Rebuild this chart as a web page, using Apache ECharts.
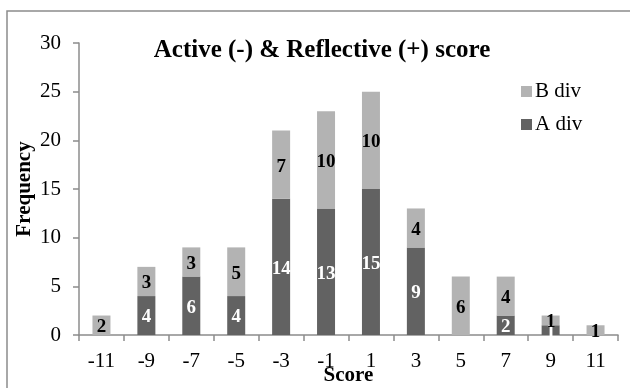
<!DOCTYPE html>
<html>
<head>
<meta charset="utf-8">
<script src="https://cdn.jsdelivr.net/npm/echarts@6/dist/echarts.min.js"></script>
<style>
  html, body { margin: 0; padding: 0; background: #fff; }
  #chart { width: 630px; height: 388px; }
</style>
</head>
<body>
<div id="chart"></div>
<script>
// Score bins and frequencies per division
const scores = ['-11', '-9', '-7', '-5', '-3', '-1', '1', '3', '5', '7', '9', '11'];
const aDiv = [0, 4, 6, 4, 14, 13, 15, 9, 0, 2, 1, 0];
const bDiv = [2, 3, 3, 5, 7, 10, 10, 4, 6, 4, 1, 1];
const yTicks = { min: 0, max: 30, interval: 5 };

const serif = '"Liberation Serif", "Times New Roman", serif';
const axisGrey = '#8c8c8c';

const hideZero = p => (p.value ? String(p.value) : '');

const chart = echarts.init(document.getElementById('chart'), null, { renderer: 'canvas' });
chart.setOption({
  animation: false,
  backgroundColor: '#ffffff',
  textStyle: { fontFamily: serif },
  graphic: [{
    type: 'rect',
    shape: { x: 7, y: 11, width: 700, height: 500 },
    style: { fill: 'none', stroke: axisGrey, lineWidth: 1.5 },
    silent: true
  }],
  title: {
    text: 'Active (-) & Reflective (+) score',
    left: 322, top: 38, textAlign: 'center', padding: 0,
    textStyle: { fontFamily: serif, fontWeight: 'bold', fontSize: 25, color: '#000' }
  },
  legend: {
    data: ['B div', 'A div'],
    orient: 'vertical',
    left: 521, top: 80, padding: 0,
    itemWidth: 11, itemHeight: 11, itemGap: 10,
    icon: 'rect',
    textStyle: { fontFamily: serif, fontSize: 21, color: '#000', lineHeight: 23, padding: [0, 0, 0, -2] }
  },
  grid: {
    left: 79, right: 12, top: 43, bottom: 53,
    containLabel: false, outerBoundsMode: 'none'
  },
  xAxis: {
    type: 'category',
    data: scores,
    name: 'Score',
    nameLocation: 'middle',
    nameGap: 30,
    nameMoveOverlap: false,
    nameTextStyle: { fontFamily: serif, fontWeight: 'bold', fontSize: 21, color: '#000' },
    axisLine: { lineStyle: { color: axisGrey, width: 1.5 } },
    axisTick: { show: true, length: 6, lineStyle: { color: axisGrey, width: 1.5 }, alignWithLabel: false },
    axisLabel: { fontFamily: serif, fontSize: 21, color: '#000', margin: 16 },
    splitLine: { show: false }
  },
  yAxis: {
    type: 'value',
    min: yTicks.min, max: yTicks.max, interval: yTicks.interval,
    name: 'Frequency',
    nameLocation: 'middle',
    nameGap: 44,
    nameMoveOverlap: false,
    nameTextStyle: { fontFamily: serif, fontWeight: 'bold', fontSize: 21, color: '#000' },
    axisLine: { show: true, lineStyle: { color: axisGrey, width: 1.5 } },
    axisTick: { show: true, length: 6, lineStyle: { color: axisGrey, width: 1.5 } },
    axisLabel: { fontFamily: serif, fontSize: 21, color: '#000', margin: 18 },
    splitLine: { show: false }
  },
  series: [
    {
      name: 'A div', type: 'bar', stack: 'total', data: aDiv,
      barWidth: 18,
      itemStyle: { color: '#626262' },
      label: {
        show: true, position: 'inside', formatter: hideZero,
        fontFamily: serif, fontSize: 19, fontWeight: 'bold', color: '#ffffff', offset: [0, 2]
      }
    },
    {
      name: 'B div', type: 'bar', stack: 'total', data: bDiv,
      barWidth: 18,
      itemStyle: { color: '#b3b3b3' },
      label: {
        show: true, position: 'inside', formatter: hideZero,
        fontFamily: serif, fontSize: 19, fontWeight: 'bold', color: '#000000', offset: [0, 2]
      }
    }
  ]
});
</script>
</body>
</html>
